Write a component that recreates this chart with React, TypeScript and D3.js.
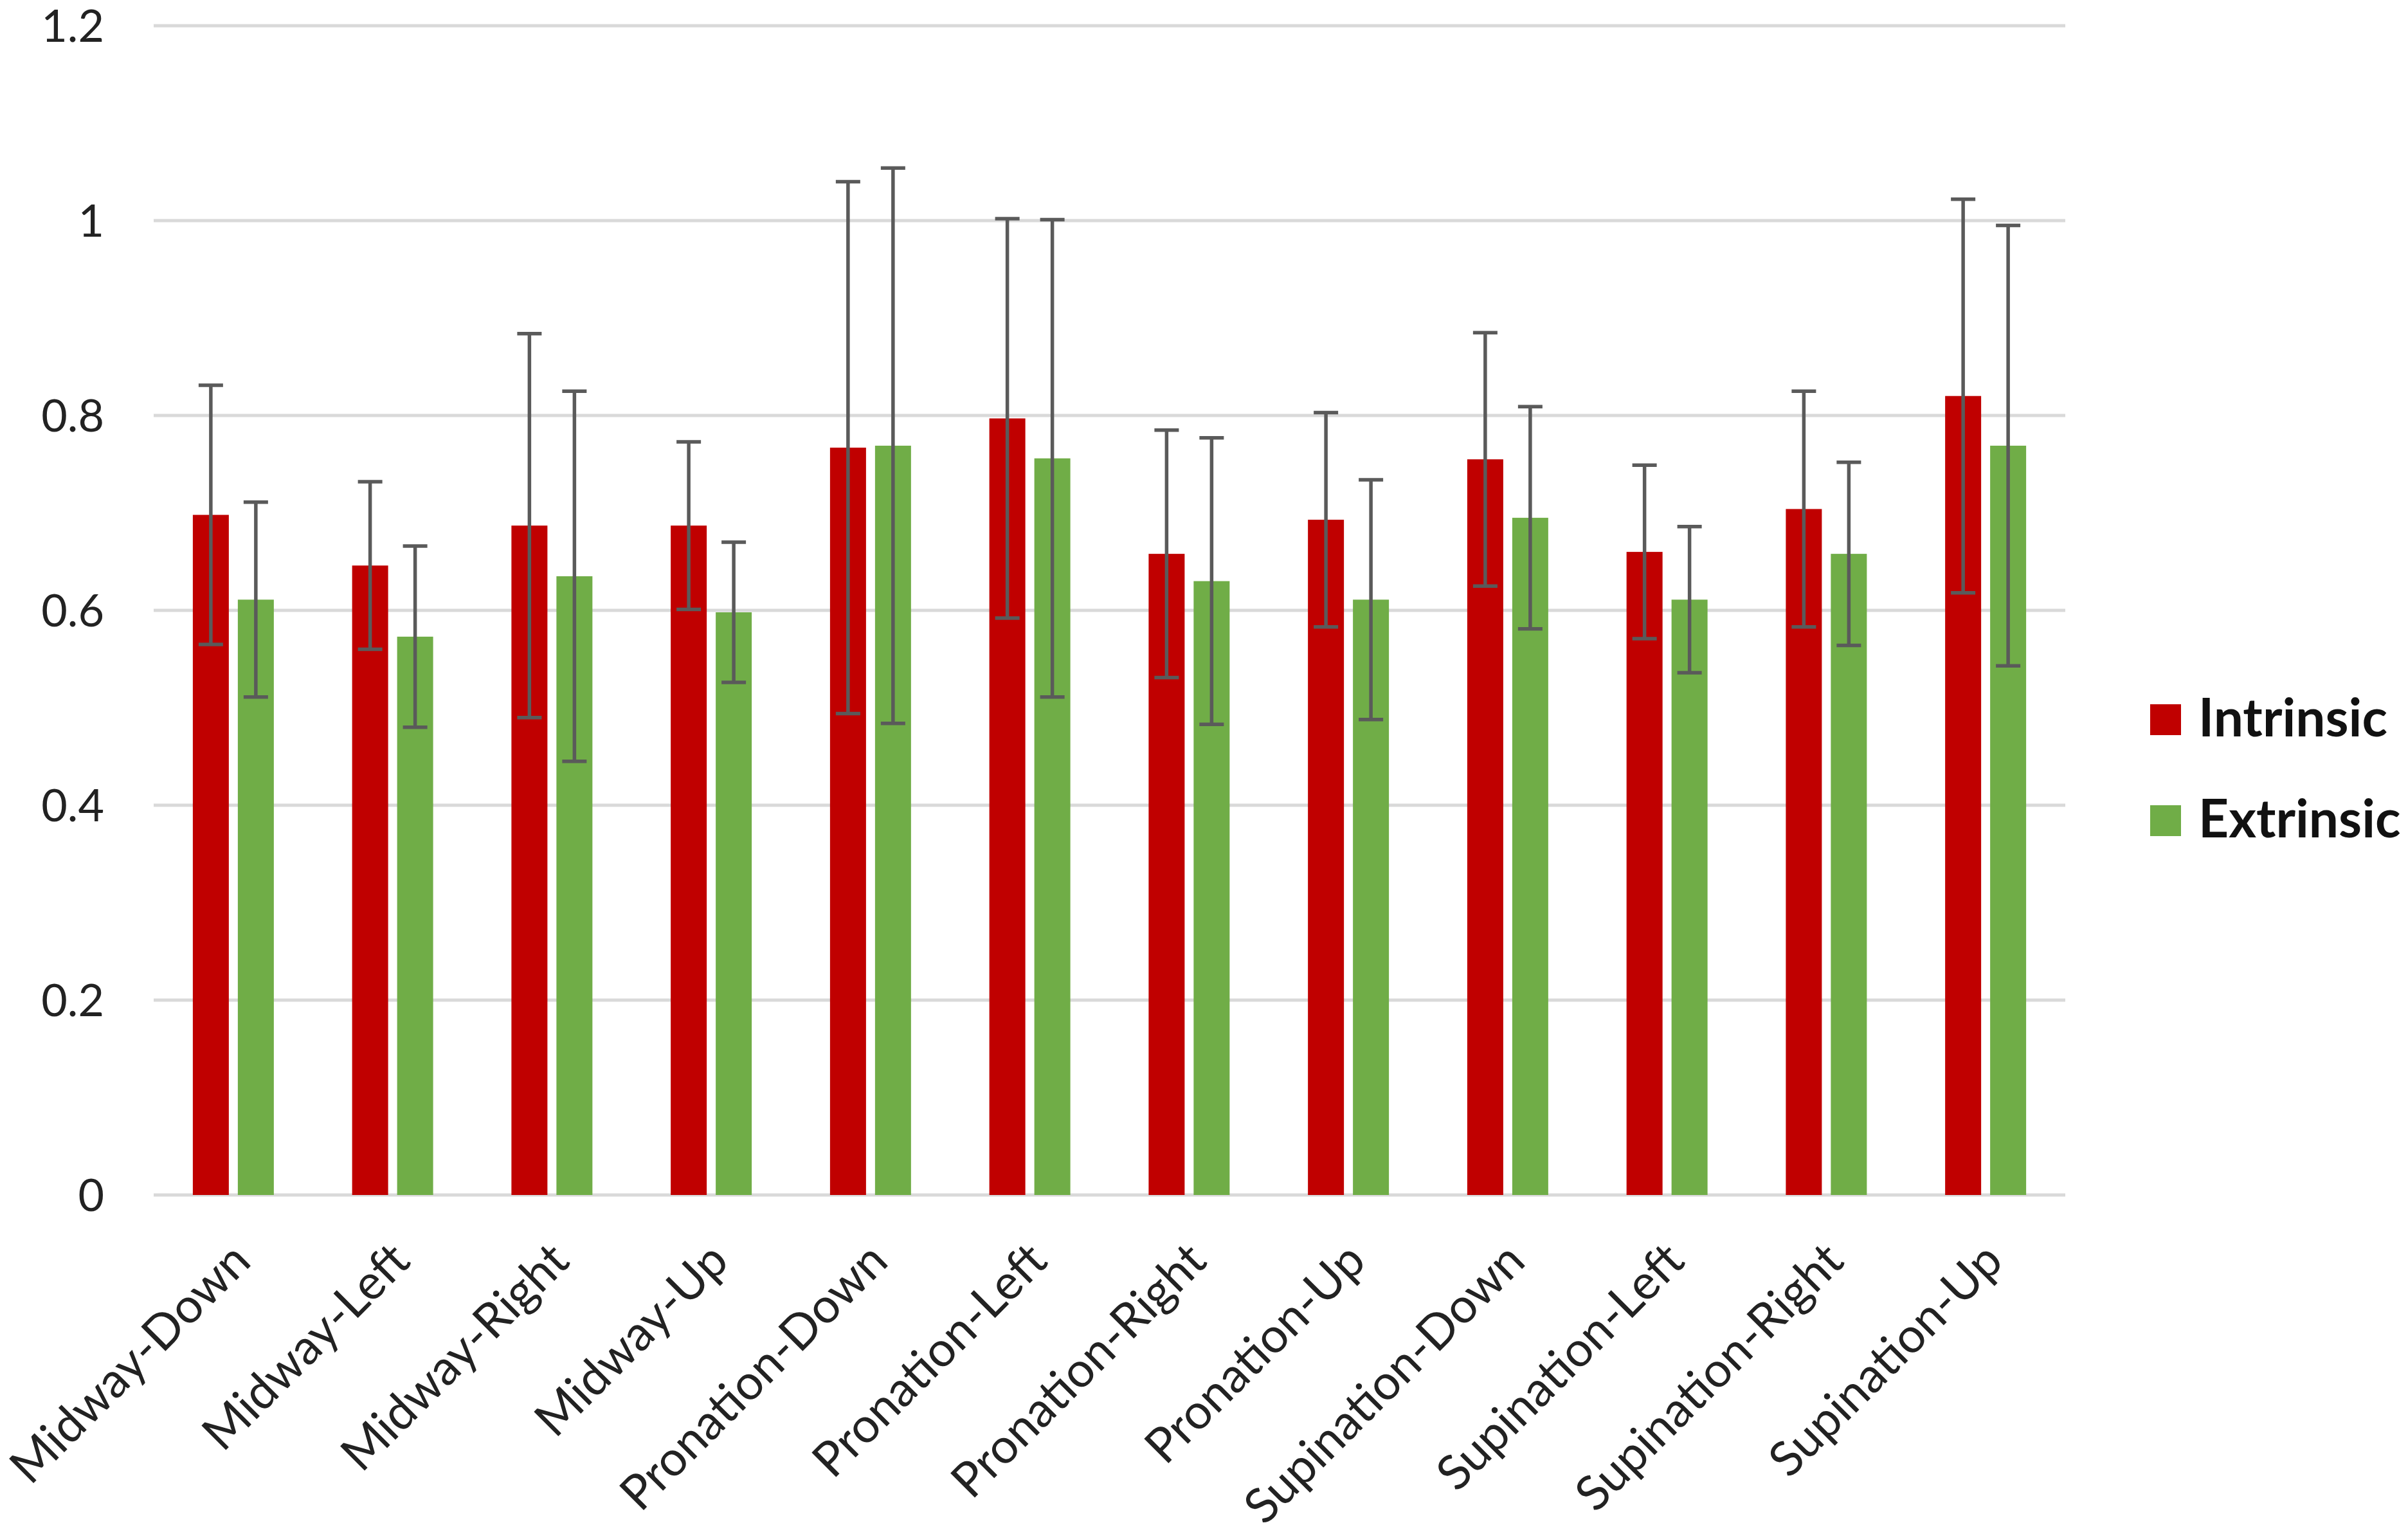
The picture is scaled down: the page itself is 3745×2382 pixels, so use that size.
import React from "react";
import * as d3 from "d3";

const width = 3745;
const height = 2382;

const categories = [
    "Midway-Down", "Midway-Left", "Midway-Right", "Midway-Up",
    "Pronation-Down", "Pronation-Left", "Pronation-Right", "Pronation-Up",
    "Supination-Down", "Supination-Left", "Supination-Right", "Supination-Up",
];
const seriesNames = ["Intrinsic", "Extrinsic"];
const seriesColors = ["#C00000", "#70AD47"];

const intrinsic = [0.698, 0.646, 0.687, 0.687, 0.767, 0.797, 0.658, 0.693, 0.755, 0.660, 0.704, 0.820];
const intrinsicErr = [0.133, 0.086, 0.197, 0.086, 0.273, 0.205, 0.127, 0.110, 0.130, 0.089, 0.121, 0.202];
const extrinsic = [0.611, 0.573, 0.635, 0.598, 0.769, 0.756, 0.630, 0.611, 0.695, 0.611, 0.658, 0.769];
const extrinsicErr = [0.100, 0.093, 0.190, 0.072, 0.285, 0.245, 0.147, 0.123, 0.114, 0.075, 0.094, 0.226];

const yTicks = [0, 0.2, 0.4, 0.6, 0.8, 1, 1.2];

const plot = { left: 239, right: 3212, top: 40, bottom: 1858 };
const font = "Lato, Carlito, Calibri, sans-serif";

export default function App() {
    const x0 = d3.scaleBand<string>()
        .domain(categories)
        .range([plot.left, plot.right]);

    const x1 = d3.scaleBand<string>()
        .domain(seriesNames)
        .range([0, x0.bandwidth()])
        .paddingInner(0.2)
        .paddingOuter(0.87);

    const y = d3.scaleLinear()
        .domain([0, 1.2])
        .range([plot.bottom, plot.top]);

    const values = [intrinsic, extrinsic];
    const errors = [intrinsicErr, extrinsicErr];

    const capHalf = 19;

    return (
        <svg width={width} height={height} style={{ position: "absolute", left: 0, top: 0, background: "#fff" }}>
            <rect x={0} y={0} width={width} height={height} fill="#fff" />

            {/* gridlines */}
            <g stroke="#d9d9d9" strokeWidth={5}>
                {yTicks.map(t => (
                    <line key={t} x1={plot.left} x2={plot.right} y1={y(t)} y2={y(t)} />
                ))}
            </g>

            {/* y tick labels */}
            <g fontFamily={font} fontSize={70} fill="#222" textAnchor="end">
                {yTicks.map(t => (
                    <text key={t} x={162} y={y(t)} dy="0.36em">{d3.format("~g")(t)}</text>
                ))}
            </g>

            {/* bars */}
            {seriesNames.map((s, si) => (
                <g key={s} fill={seriesColors[si]}>
                    {categories.map((c, i) => (
                        <rect key={c}
                            x={(x0(c) ?? 0) + (x1(s) ?? 0)}
                            y={y(values[si][i])}
                            width={x1.bandwidth()}
                            height={y(0) - y(values[si][i])} />
                    ))}
                </g>
            ))}

            {/* error bars */}
            <g stroke="#5a5a5a" strokeWidth={5.5} fill="none">
                {seriesNames.map((s, si) => categories.map((c, i) => {
                    const cx = (x0(c) ?? 0) + (x1(s) ?? 0) + x1.bandwidth() / 2;
                    const hi = y(values[si][i] + errors[si][i]);
                    const lo = y(values[si][i] - errors[si][i]);
                    return (
                        <g key={s + c}>
                            <line x1={cx} x2={cx} y1={hi} y2={lo} />
                            <line x1={cx - capHalf} x2={cx + capHalf} y1={hi} y2={hi} />
                            <line x1={cx - capHalf} x2={cx + capHalf} y1={lo} y2={lo} />
                        </g>
                    );
                }))}
            </g>

            {/* x labels */}
            <g fontFamily={font} fontSize={75} fill="#222" textAnchor="end">
                {categories.map(c => {
                    const cx = (x0(c) ?? 0) + x0.bandwidth() / 2;
                    return (
                        <text key={c} transform={`translate(${cx + 12},${plot.bottom + 88}) rotate(-45)`} dy="0.35em">{c}</text>
                    );
                })}
            </g>

            {/* legend */}
            <g fontFamily={font} fontSize={82} fontWeight="bold" fill="#111">
                {seriesNames.map((s, si) => (
                    <g key={s} transform={`translate(3344,${1095 + si * 157})`}>
                        <rect x={0} y={0} width={48} height={48} fill={seriesColors[si]} />
                        <text x={75} y={50}>{s}</text>
                    </g>
                ))}
            </g>
        </svg>
    );
}
